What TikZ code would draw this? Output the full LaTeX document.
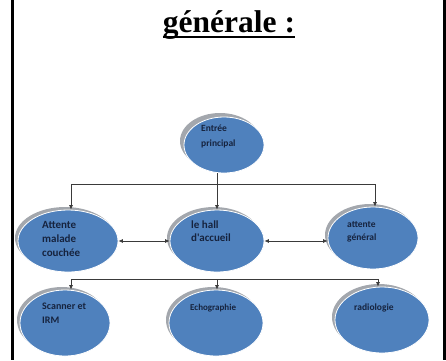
\documentclass[tikz,border=0pt]{standalone}
\usepackage{fontspec}
\setmainfont{Liberation Serif}
\newfontfamily\calib{Carlito}
\usetikzlibrary{shapes.geometric,arrows.meta}
\definecolor{ellblue}{HTML}{4F81BD}
\definecolor{txtnavy}{HTML}{16233E}
\definecolor{shadowgray}{HTML}{A3A7AD}
\definecolor{linegray}{HTML}{3A3A3A}
\tikzset{
  bubble/.style={ellipse, fill=ellblue, draw=white, line width=0.8pt, inner sep=0pt},
  bshade/.style={ellipse, fill=shadowgray, inner sep=0pt},
  lbl/.style={anchor=north west, inner sep=0pt, text=txtnavy, align=left},
  conn/.style={draw=linegray, line width=0.7pt},
  arr/.style={conn, -{Latex[length=4.5pt,width=4pt]}},
  darr/.style={conn, {Latex[length=4.5pt,width=4pt]}-{Latex[length=4.5pt,width=4pt]}},
  frameline/.style={draw=black, line width=2.4pt},
}
\begin{document}
\begin{tikzpicture}[x=1pt,y=-1pt]
\useasboundingbox (0,0) rectangle (446,360);
% frame
\draw[frameline] (12.5,0) -- (12.5,360);
\draw[frameline] (444.5,0) -- (444.5,360);
% title
\node[anchor=base, inner sep=0pt, font=\bfseries\fontsize{31.5}{33}\selectfont] (title) at (229,32) {générale :};
\draw[line width=2pt] ([yshift=-5pt]title.base west) -- ([yshift=-5pt]title.base east);
% shadows
\node[bshade, minimum width=80pt, minimum height=56pt] (entreeS) at (220,141) {};
\node[bshade, minimum width=100pt, minimum height=62pt] (maladeS) at (65,238) {};
\node[bshade, minimum width=94pt, minimum height=62pt] (hallS) at (214,238) {};
\node[bshade, minimum width=90pt, minimum height=62pt] (generalS) at (370,235) {};
\node[bshade, minimum width=90pt, minimum height=66pt] (scannerS) at (62,320) {};
\node[bshade, minimum width=94pt, minimum height=66pt] (echoS) at (213,320) {};
\node[bshade, minimum width=94pt, minimum height=66pt] (radioS) at (379,317) {};
% ellipses
\node[bubble, minimum width=80pt, minimum height=56pt] (entree) at (224,145) {};
\node[bubble, minimum width=100pt, minimum height=62pt] (malade) at (68,241) {};
\node[bubble, minimum width=94pt, minimum height=62pt] (hall) at (217,241) {};
\node[bubble, minimum width=90pt, minimum height=62pt] (general) at (373,238) {};
\node[bubble, minimum width=90pt, minimum height=66pt] (scanner) at (65,323) {};
\node[bubble, minimum width=94pt, minimum height=66pt] (echo) at (216,323) {};
\node[bubble, minimum width=94pt, minimum height=66pt] (radio) at (382,320) {};
% labels
\node[lbl, font=\calib\bfseries\fontsize{9.5}{15}\selectfont] (tEntree) at (201,125) {Entrée\\principal};
\node[lbl, font=\calib\bfseries\fontsize{11}{14}\selectfont] (tMalade) at (42,221) {Attente\\malade\\couchée};
\node[lbl, font=\calib\bfseries\fontsize{11}{13}\selectfont] (tHall) at (191,221) {le hall\\d'accueil};
\node[lbl, font=\calib\bfseries\fontsize{9.5}{13}\selectfont] (tGeneral) at (347,221) {attente\\général};
\node[lbl, font=\calib\bfseries\fontsize{10}{14}\selectfont] (tScanner) at (42,303) {Scanner et\\IRM};
\node[lbl, font=\calib\bfseries\fontsize{9}{13}\selectfont] (tEcho) at (190,304) {Echographie};
\node[lbl, font=\calib\bfseries\fontsize{9.5}{13}\selectfont] (tRadio) at (354,304) {radiologie};
% top bus
\coordinate (busTL) at (71,184);
\coordinate (busTR) at (375,184);
\draw[conn] (busTL) -- (busTR);
\draw[arr] (entree.south -| hall.north) -- (hall.north);
\draw[arr] (busTL) -- (busTL |- malade.north);
\draw[arr] (busTR) -- (busTR |- general.north);
% side links
\draw[darr] (malade.east) -- (hall.west);
\draw[darr] (hall.east) -- (hall.east -| general.west);
% bottom bus
\coordinate (busBL) at (71,279);
\coordinate (busBM) at (217,279);
\coordinate (busBR) at (378,279);
\draw[conn] (busBL) -- (busBR);
\draw[arr] (busBL) -- (busBL |- scanner.north);
\draw[arr] (busBM) -- (busBM |- echo.north);
\draw[arr] (busBR) -- (busBR |- radio.north);
\end{tikzpicture}
\end{document}
